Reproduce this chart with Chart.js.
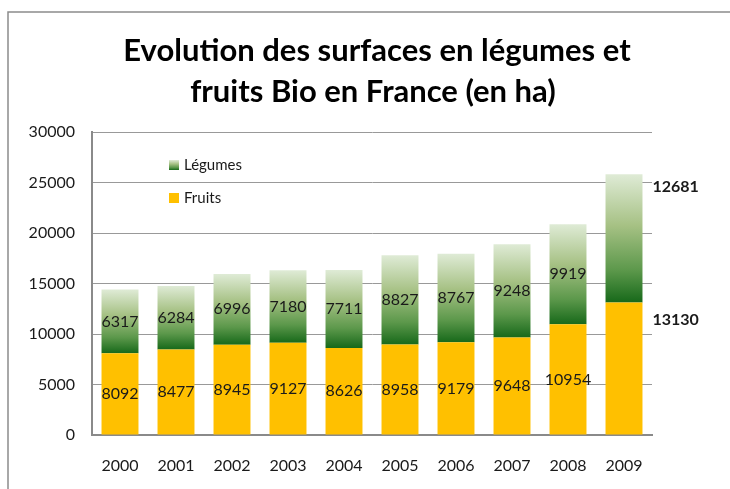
<!DOCTYPE html>
<html>
<head>
<meta charset="utf-8">
<script src="https://cdn.jsdelivr.net/npm/chart.js@4.4.1/dist/chart.umd.min.js"></script>
<style>
  html, body { margin: 0; padding: 0; background: #fff; }
  #wrap { width: 730px; height: 489px; }
</style>
</head>
<body>
<div id="wrap"><canvas id="myChart" width="730" height="489"></canvas></div>
<script>
const years = ['2000', '2001', '2002', '2003', '2004', '2005', '2006', '2007', '2008', '2009'];
const fruits = [8092, 8477, 8945, 9127, 8626, 8958, 9179, 9648, 10954, 13130];
const legumes = [6317, 6284, 6996, 7180, 7711, 8827, 8767, 9248, 9919, 12681];
const titleLines = ['Evolution des surfaces en légumes et', 'fruits Bio en France (en ha)'];

const FONT = 'Lato, "Open Sans", sans-serif';

function greenGradient(ctx, top, bottom) {
  const g = ctx.createLinearGradient(0, top, 0, bottom);
  g.addColorStop(0, '#dfebd6');
  g.addColorStop(0.4, '#a6c184');
  g.addColorStop(0.75, '#5c984b');
  g.addColorStop(1, '#17691a');
  return g;
}

// cadre gris autour + titre
const framePlugin = {
  id: 'frame',
  beforeDraw(chart) {
    const ctx = chart.ctx;
    ctx.save();
    ctx.fillStyle = '#fff';
    ctx.fillRect(0, 0, chart.width, chart.height);
    ctx.strokeStyle = '#8c8c8c';
    ctx.lineWidth = 1.5;
    ctx.beginPath();
    ctx.moveTo(8, chart.height);
    ctx.lineTo(8, 12);
    ctx.lineTo(chart.width, 12);
    ctx.stroke();

    ctx.fillStyle = '#000';
    ctx.font = 'bold 31px ' + FONT;
    ctx.textAlign = 'center';
    ctx.textBaseline = 'alphabetic';
    ctx.fillText(titleLines[0], 377, 61);
    ctx.fillText(titleLines[1], 373, 102);
    ctx.restore();
  }
};

// étiquettes de valeurs + légende dans la zone du graphique
const labelPlugin = {
  id: 'labels',
  afterDatasetsDraw(chart) {
    const ctx = chart.ctx;
    const ys = chart.scales.y;
    const area = chart.chartArea;
    const last = years.length - 1;
    ctx.save();
    ctx.fillStyle = '#1a1a1a';
    ctx.textBaseline = 'middle';
    chart.data.datasets.forEach((ds, di) => {
      const meta = chart.getDatasetMeta(di);
      meta.data.forEach((bar, i) => {
        const v = ds.data[i];
        if (i === last) {
          ctx.font = 'bold 16px ' + FONT;
          ctx.textAlign = 'left';
          const x = bar.x + bar.width / 2 + 10;
          const y = di === 0 ? ys.getPixelForValue(fruits[i]) + 17 : ys.getPixelForValue(fruits[i] + legumes[i]) + 13;
          ctx.fillText(String(v), x, y);
        } else {
          ctx.font = '16px ' + FONT;
          ctx.textAlign = 'center';
          ctx.fillText(String(v), bar.x, (bar.y + bar.base) / 2);
        }
      });
    });

    // légende
    const lx = area.left + 77;
    const items = [
      { text: 'Légumes', y: area.top + 33, green: true },
      { text: 'Fruits', y: area.top + 66, green: false }
    ];
    ctx.font = '15px ' + FONT;
    ctx.textAlign = 'left';
    items.forEach(it => {
      ctx.fillStyle = it.green ? greenGradient(ctx, it.y - 5, it.y + 5) : '#ffc000';
      ctx.fillRect(lx, it.y - 5, 10, 10);
      ctx.fillStyle = '#1a1a1a';
      ctx.fillText(it.text, lx + 15, it.y);
    });
    ctx.restore();
  }
};

const ctx = document.getElementById('myChart').getContext('2d');
const chart = new Chart(ctx, {
  type: 'bar',
  data: {
    labels: years,
    datasets: [
      {
        label: 'Fruits',
        data: fruits,
        backgroundColor: '#ffc000',
        categoryPercentage: 1,
        barPercentage: 0.66
      },
      {
        label: 'Légumes',
        data: legumes,
        backgroundColor: (c) => {
          const ys = c.chart.scales.y;
          const i = c.dataIndex;
          if (!ys || i === undefined) return '#5c984b';
          const top = ys.getPixelForValue(fruits[i] + legumes[i]);
          const bottom = ys.getPixelForValue(fruits[i]);
          if (!isFinite(top) || !isFinite(bottom)) return '#5c984b';
          return greenGradient(c.chart.ctx, top, bottom);
        },
        categoryPercentage: 1,
        barPercentage: 0.66
      }
    ]
  },
  options: {
    responsive: false,
    animation: false,
    layout: { padding: { left: 10, right: 78, top: 132, bottom: 0 } },
    plugins: {
      legend: { display: false },
      title: { display: false },
      tooltip: { enabled: false }
    },
    scales: {
      x: {
        stacked: true,
        grid: { display: false, drawTicks: false },
        border: { display: true, color: '#8a8a8a', width: 2 },
        ticks: { color: '#1a1a1a', font: { family: FONT, size: 16 }, padding: 21 },
        afterFit: (s) => { s.height = 54; }
      },
      y: {
        stacked: true,
        min: 0,
        max: 30000,
        grid: { color: '#999', lineWidth: 1, drawTicks: false },
        border: { display: true, color: '#8a8a8a', width: 2 },
        ticks: {
          stepSize: 5000,
          color: '#1a1a1a',
          font: { family: FONT, size: 16 },
          padding: 17,
          callback: (v) => String(v)
        },
        afterFit: (s) => { s.width = 82; }
      }
    }
  },
  plugins: [framePlugin, labelPlugin]
});
</script>
</body>
</html>
